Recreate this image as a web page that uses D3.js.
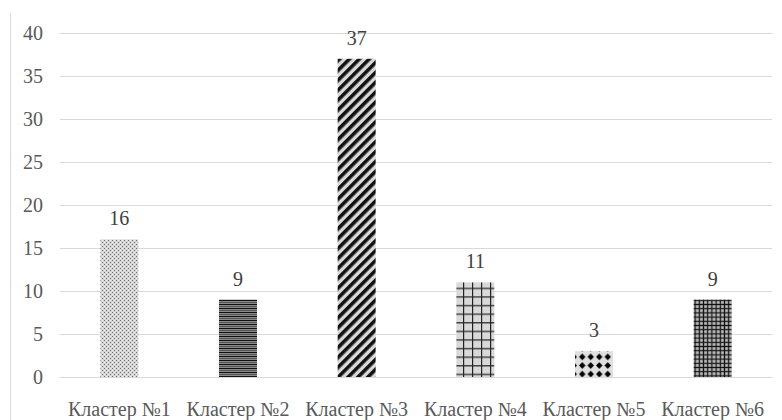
<!DOCTYPE html>
<html><head><meta charset="utf-8">
<script src="https://cdn.jsdelivr.net/npm/d3@7"></script>
<style>body{margin:0;background:#fff}</style>
</head><body>
<svg id="chart" width="782" height="420"></svg>
<script>
const categories = ["Кластер №1","Кластер №2","Кластер №3","Кластер №4","Кластер №5","Кластер №6"];
const values = [16, 9, 37, 11, 3, 9];
const yTicks = [0,5,10,15,20,25,30,35,40];
const patternIds = ["pDots","pHLines","pDiag","pGrid","pDiamond","pFineGrid"];

const W = 782, H = 420;
const svg = d3.select("#chart");
const FONT = '"Liberation Serif"';

const defs = svg.append("defs");
// 1: dotted
let p = defs.append("pattern").attr("id","pDots").attr("patternUnits","userSpaceOnUse").attr("width",4).attr("height",4);
p.append("rect").attr("width",4).attr("height",4).attr("fill","#d4d4d4");
p.append("rect").attr("x",0).attr("y",0).attr("width",1).attr("height",1).attr("fill","#707070");
p.append("rect").attr("x",2).attr("y",2).attr("width",1).attr("height",1).attr("fill","#707070");
p.append("rect").attr("x",2).attr("y",0).attr("width",1).attr("height",1).attr("fill","#f0f0f0");
p.append("rect").attr("x",0).attr("y",2).attr("width",1).attr("height",1).attr("fill","#f0f0f0");
// 2: horizontal lines
p = defs.append("pattern").attr("id","pHLines").attr("patternUnits","userSpaceOnUse").attr("width",4).attr("height",4);
p.append("rect").attr("width",4).attr("height",4).attr("fill","#8a8a8a");
p.append("rect").attr("y",0).attr("width",4).attr("height",1).attr("fill","#111");
p.append("rect").attr("y",2).attr("width",4).attr("height",1).attr("fill","#555");
// 3: diagonal
p = defs.append("pattern").attr("id","pDiag").attr("patternUnits","userSpaceOnUse").attr("width",7).attr("height",7).attr("patternTransform","rotate(45)");
p.append("rect").attr("width",7).attr("height",7).attr("fill","#dadada");
p.append("rect").attr("x",0).attr("width",3.6).attr("height",7).attr("fill","#111");
// 4: grid
p = defs.append("pattern").attr("id","pGrid").attr("patternUnits","userSpaceOnUse").attr("width",9).attr("height",8.6);
p.append("rect").attr("width",9).attr("height",8.6).attr("fill","#d9d9d9");
p.append("rect").attr("x",4).attr("width",1.2).attr("height",8.6).attr("fill","#222");
p.append("rect").attr("y",4).attr("width",9).attr("height",1.2).attr("fill","#222");
// 5: diamonds
p = defs.append("pattern").attr("id","pDiamond").attr("patternUnits","userSpaceOnUse").attr("width",8.5).attr("height",8.6);
p.append("rect").attr("width",8.5).attr("height",8.6).attr("fill","#e0e0e0");
p.append("path").attr("d","M4.25,1 L7.5,4.3 L4.25,7.6 L1,4.3 Z").attr("fill","#000");
// 6: fine grid
p = defs.append("pattern").attr("id","pFineGrid").attr("patternUnits","userSpaceOnUse").attr("width",4.2).attr("height",4.2);
p.append("rect").attr("width",4.2).attr("height",4.2).attr("fill","#b8b8b8");
p.append("rect").attr("x",1.5).attr("width",1.2).attr("height",4.2).attr("fill","#111");
p.append("rect").attr("y",1.5).attr("width",4.2).attr("height",1.2).attr("fill","#111");

const x = d3.scaleBand().domain(categories).range([60, 772]).paddingInner(0.68).paddingOuter(0.34);
const y = d3.scaleLinear().domain([0, 40]).range([377, 33]);

// left frame line
svg.append("line").attr("x1",10.5).attr("x2",10.5).attr("y1",13).attr("y2",H).attr("stroke","#d9d9d9").attr("stroke-width",1);

// gridlines
svg.append("g").selectAll("line").data(yTicks).join("line")
  .attr("x1",60).attr("x2",772)
  .attr("y1",d=>Math.round(y(d))+0.5).attr("y2",d=>Math.round(y(d))+0.5)
  .attr("stroke","#d9d9d9").attr("stroke-width",1);

// y labels
svg.append("g").selectAll("text").data(yTicks).join("text")
  .attr("x",43).attr("y",d=>y(d)).attr("dy","0.35em")
  .attr("text-anchor","end").style("font-family",FONT).style("font-size","20px").attr("fill","#595959")
  .text(d=>d);

// bars
svg.append("g").selectAll("rect").data(values).join("rect")
  .attr("x",(d,i)=>x(categories[i])).attr("width",x.bandwidth())
  .attr("y",d=>y(d)).attr("height",d=>y(0)-y(d))
  .attr("fill",(d,i)=>`url(#${patternIds[i]})`);

// value labels
svg.append("g").selectAll("text").data(values).join("text")
  .attr("x",(d,i)=>x(categories[i])+x.bandwidth()/2).attr("y",d=>y(d)-14)
  .attr("text-anchor","middle").style("font-family",FONT).style("font-size","20px").attr("fill","#404040")
  .text(d=>d);

// category labels
svg.append("g").selectAll("text").data(categories).join("text")
  .attr("x",d=>x(d)+x.bandwidth()/2).attr("y",416)
  .attr("text-anchor","middle").style("font-family",FONT).style("font-size","20px").attr("fill","#595959")
  .text(d=>d);
</script>
</body></html>
